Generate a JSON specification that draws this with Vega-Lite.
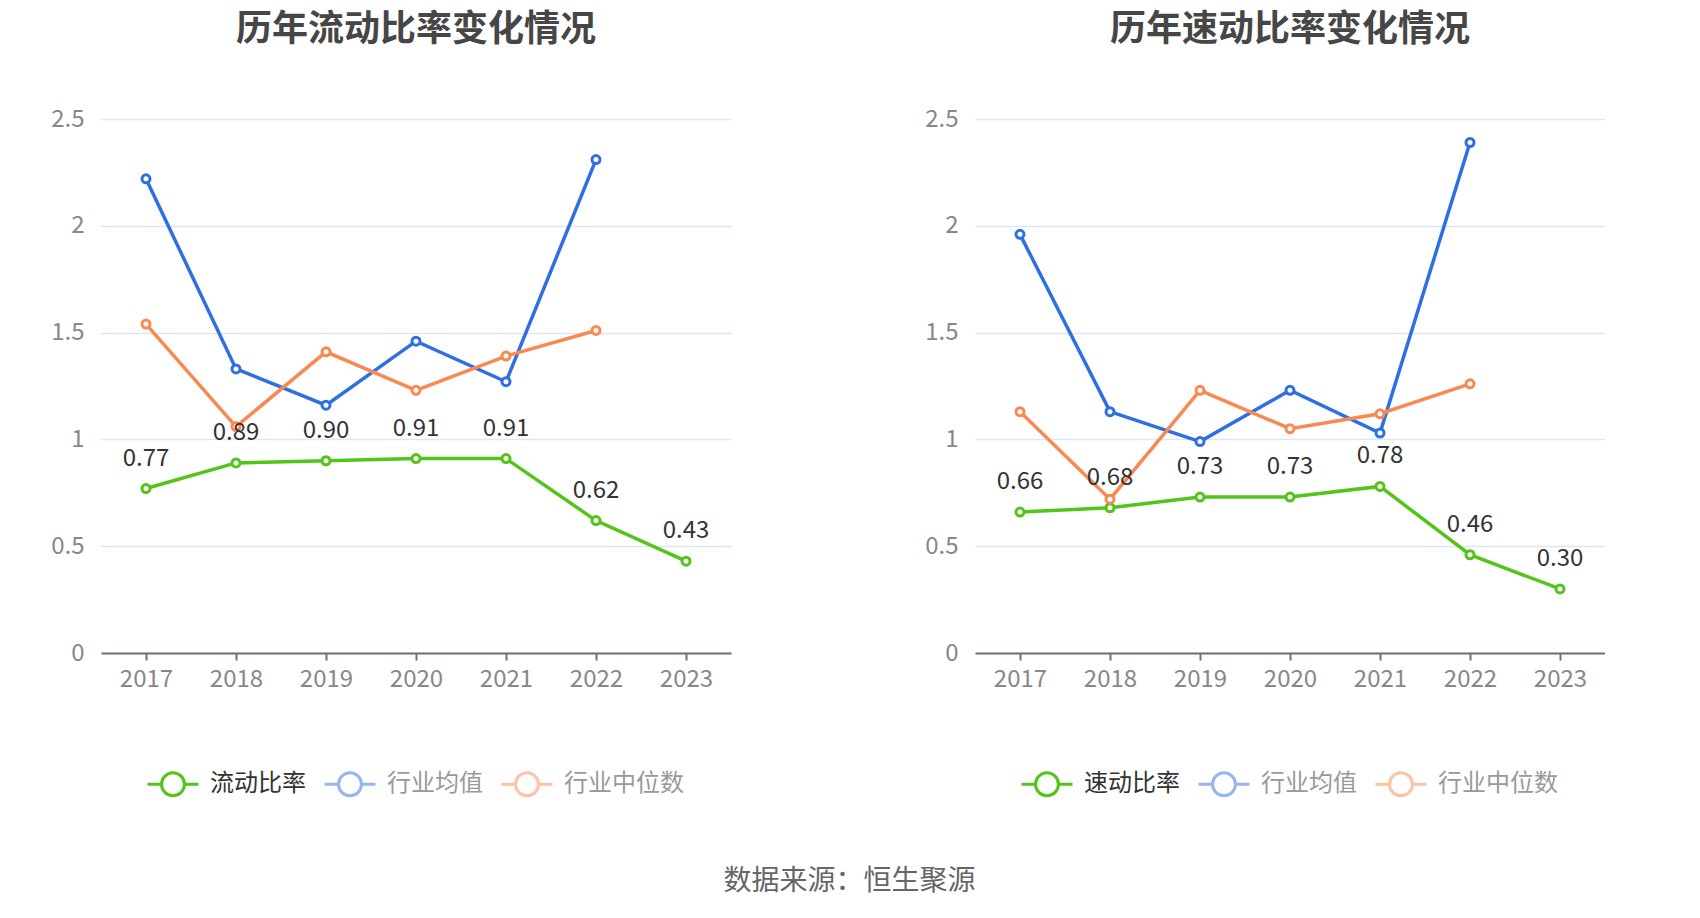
{
  "$schema": "https://vega.github.io/schema/vega-lite/v6.json",
  "background": "white",
  "padding": {"left": 46, "top": 12, "right": 0, "bottom": 12},
  "title": {
    "text": "数据来源：恒生聚源",
    "orient": "bottom",
    "anchor": "middle",
    "fontSize": 28,
    "fontWeight": "normal",
    "color": "#666666",
    "offset": 66,
    "dx": 24
  },
  "datasets": {
    "current": [
      {"year": "2017", "s": "流动比率", "v": 0.77},
      {"year": "2018", "s": "流动比率", "v": 0.89},
      {"year": "2019", "s": "流动比率", "v": 0.90},
      {"year": "2020", "s": "流动比率", "v": 0.91},
      {"year": "2021", "s": "流动比率", "v": 0.91},
      {"year": "2022", "s": "流动比率", "v": 0.62},
      {"year": "2023", "s": "流动比率", "v": 0.43},
      {"year": "2017", "s": "行业均值", "v": 2.22},
      {"year": "2018", "s": "行业均值", "v": 1.33},
      {"year": "2019", "s": "行业均值", "v": 1.16},
      {"year": "2020", "s": "行业均值", "v": 1.46},
      {"year": "2021", "s": "行业均值", "v": 1.27},
      {"year": "2022", "s": "行业均值", "v": 2.31},
      {"year": "2017", "s": "行业中位数", "v": 1.54},
      {"year": "2018", "s": "行业中位数", "v": 1.06},
      {"year": "2019", "s": "行业中位数", "v": 1.41},
      {"year": "2020", "s": "行业中位数", "v": 1.23},
      {"year": "2021", "s": "行业中位数", "v": 1.39},
      {"year": "2022", "s": "行业中位数", "v": 1.51}
    ],
    "quick": [
      {"year": "2017", "s": "速动比率", "v": 0.66},
      {"year": "2018", "s": "速动比率", "v": 0.68},
      {"year": "2019", "s": "速动比率", "v": 0.73},
      {"year": "2020", "s": "速动比率", "v": 0.73},
      {"year": "2021", "s": "速动比率", "v": 0.78},
      {"year": "2022", "s": "速动比率", "v": 0.46},
      {"year": "2023", "s": "速动比率", "v": 0.30},
      {"year": "2017", "s": "行业均值", "v": 1.96},
      {"year": "2018", "s": "行业均值", "v": 1.13},
      {"year": "2019", "s": "行业均值", "v": 0.99},
      {"year": "2020", "s": "行业均值", "v": 1.23},
      {"year": "2021", "s": "行业均值", "v": 1.03},
      {"year": "2022", "s": "行业均值", "v": 2.39},
      {"year": "2017", "s": "行业中位数", "v": 1.13},
      {"year": "2018", "s": "行业中位数", "v": 0.72},
      {"year": "2019", "s": "行业中位数", "v": 1.23},
      {"year": "2020", "s": "行业中位数", "v": 1.05},
      {"year": "2021", "s": "行业中位数", "v": 1.12},
      {"year": "2022", "s": "行业中位数", "v": 1.26}
    ]
  },
  "hconcat": [
    {
      "title": {"text": "历年流动比率变化情况"},
      "width": 630,
      "height": 534,
      "data": {"name": "current"},
      "encoding": {
        "x": {"field": "year", "type": "ordinal"},
        "y": {
          "field": "v",
          "type": "quantitative",
          "scale": {"domain": [0, 2.5], "nice": false},
          "axis": {"values": [0, 0.5, 1, 1.5, 2, 2.5], "labelExpr": "'' + datum.value"}
        }
      },
      "layer": [
        {
          "mark": {
            "type": "line",
            "strokeWidth": 3.5,
            "point": {"filled": false, "fill": "white", "size": 64, "strokeWidth": 3}
          },
          "encoding": {
            "color": {
              "field": "s",
              "type": "nominal",
              "scale": {"domain": ["流动比率", "行业均值", "行业中位数"], "range": ["#52c41a", "#2f6fe4", "#fa8850"]},
              "legend": {
                "orient": "none",
                "legendX": 45,
                "legendY": 638,
                "encode": {
                  "labels": {"update": {"fill": {"signal": "datum.label === '流动比率' ? '#333333' : '#999999'"}}},
                  "symbols": {"update": {"opacity": {"signal": "datum.label === '流动比率' ? 1 : 0.5"}, "fill": {"value": "white"}}}
                }
              }
            }
          }
        },
        {
          "transform": [{"filter": "datum.s === '流动比率'"}],
          "mark": {"type": "text", "dy": -30, "fontSize": 24, "color": "#333333"},
          "encoding": {"text": {"field": "v", "type": "quantitative", "format": ".2f"}}
        }
      ]
    },
    {
      "title": {"text": "历年速动比率变化情况"},
      "width": 630,
      "height": 534,
      "data": {"name": "quick"},
      "encoding": {
        "x": {"field": "year", "type": "ordinal"},
        "y": {
          "field": "v",
          "type": "quantitative",
          "scale": {"domain": [0, 2.5], "nice": false},
          "axis": {"values": [0, 0.5, 1, 1.5, 2, 2.5], "labelExpr": "'' + datum.value"}
        }
      },
      "layer": [
        {
          "mark": {
            "type": "line",
            "strokeWidth": 3.5,
            "point": {"filled": false, "fill": "white", "size": 64, "strokeWidth": 3}
          },
          "encoding": {
            "color": {
              "field": "s",
              "type": "nominal",
              "scale": {"domain": ["速动比率", "行业均值", "行业中位数"], "range": ["#52c41a", "#2f6fe4", "#fa8850"]},
              "legend": {
                "orient": "none",
                "legendX": 45,
                "legendY": 638,
                "encode": {
                  "labels": {"update": {"fill": {"signal": "datum.label === '速动比率' ? '#333333' : '#999999'"}}},
                  "symbols": {"update": {"opacity": {"signal": "datum.label === '速动比率' ? 1 : 0.5"}, "fill": {"value": "white"}}}
                }
              }
            }
          }
        },
        {
          "transform": [{"filter": "datum.s === '速动比率'"}],
          "mark": {"type": "text", "dy": -30, "fontSize": 24, "color": "#333333"},
          "encoding": {"text": {"field": "v", "type": "quantitative", "format": ".2f"}}
        }
      ]
    }
  ],
  "spacing": 189,
  "resolve": {"scale": {"color": "independent"}, "legend": {"color": "independent"}},
  "config": {
    "font": "Noto Sans CJK SC",
    "view": {"stroke": null},
    "title": {"fontSize": 36, "fontWeight": "bold", "color": "#464646", "offset": 58, "anchor": "middle"},
    "axisX": {
      "title": null,
      "labelAngle": 0,
      "grid": false,
      "domainColor": "#6e7079",
      "domainWidth": 2,
      "tickColor": "#6e7079",
      "tickWidth": 2,
      "tickSize": 7,
      "labelFontSize": 24,
      "labelColor": "#888888",
      "labelPadding": 7
    },
    "axisY": {
      "title": null,
      "domain": false,
      "ticks": false,
      "gridColor": "#e0e6f1",
      "gridWidth": 1.5,
      "labelFontSize": 24,
      "labelColor": "#888888",
      "labelPadding": 17,
      "minExtent": 55,
      "maxExtent": 55
    },
    "legend": {
      "title": null,
      "direction": "horizontal",
      "symbolType": "M-1,0L-0.45,0M0.45,0L1,0M-0.45,0A0.45,0.45,0,1,1,0.45,0A0.45,0.45,0,1,1,-0.45,0",
      "symbolSize": 2601,
      "symbolStrokeWidth": 3,
      "symbolFillColor": "white",
      "labelFontSize": 24,
      "labelOffset": 10,
      "columnPadding": 12,
      "labelLimit": 300
    }
  }
}
